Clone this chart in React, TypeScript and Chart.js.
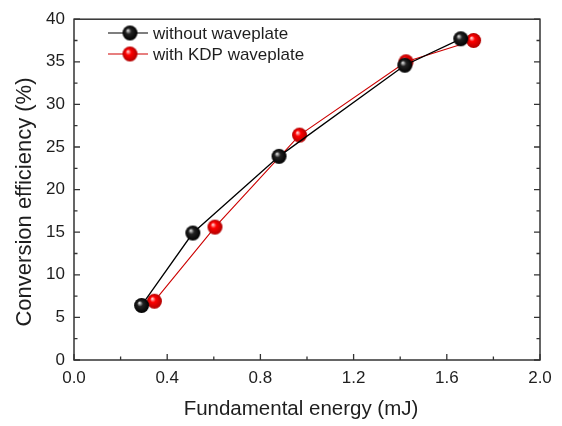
import React, { useEffect, useRef } from "react";
import { Chart, registerables } from "chart.js";

Chart.register(...registerables);

const seriesNames = ["without waveplate", "with KDP waveplate"];
const energyWithout = [0.29, 0.51, 0.88, 1.42, 1.66];
const effWithout = [6.4, 14.9, 23.9, 34.6, 37.7];
const energyKDP = [0.345, 0.605, 0.968, 1.425, 1.715];
const effKDP = [6.9, 15.6, 26.4, 35.0, 37.5];
const xTitle = "Fundamental energy (mJ)";
const yTitle = "Conversion efficiency (%)";

const FONT = "'Liberation Sans', Arial, sans-serif";
const AXIS = "#333333";
const TEXT = "#1e1e1e";

function makeBall(base: string, mid: string, light: string, r: number) {
  const s = Math.ceil(r * 2 + 2);
  const c = document.createElement("canvas");
  c.width = s;
  c.height = s;
  const ctx = c.getContext("2d")!;
  const cx = s / 2, cy = s / 2;
  const g = ctx.createRadialGradient(cx - r * 0.3, cy - r * 0.35, r * 0.05, cx, cy, r);
  g.addColorStop(0, light);
  g.addColorStop(0.35, mid);
  g.addColorStop(1, base);
  ctx.fillStyle = g;
  ctx.beginPath();
  ctx.arc(cx, cy, r, 0, Math.PI * 2);
  ctx.fill();
  return c;
}

export default function App() {
  const ref = useRef<HTMLCanvasElement | null>(null);
  useEffect(() => {
    document.body.style.margin = "0";
    const blackBall = makeBall("#000000", "#222222", "#e0e0e0", 7.5);
    const redBall = makeBall("#b00000", "#ff0000", "#ffd8d8", 7.5);

    const frame = {
      id: "frame",
      afterDraw(chart: any) {
        const { ctx, chartArea: a, scales } = chart;
        ctx.save();
        ctx.strokeStyle = AXIS;
        ctx.lineWidth = 1.5;
        ctx.strokeRect(a.left, a.top, a.right - a.left, a.bottom - a.top);
        ctx.lineWidth = 1.3;
        ctx.beginPath();
        for (let v = 0; v <= 2.0001; v += 0.2) {
          const x = scales.x.getPixelForValue(v);
          const major = Math.round(v * 10) % 4 === 0;
          const L = major ? 6 : 3.5;
          ctx.moveTo(x, a.bottom);
          ctx.lineTo(x, a.bottom - L);
        }
        for (let v = 0; v <= 40.001; v += 2.5) {
          const y = scales.y.getPixelForValue(v);
          const major = Math.round(v * 10) % 50 === 0;
          const L = major ? 6 : 3.5;
          ctx.moveTo(a.left, y);
          ctx.lineTo(a.left + L, y);
          ctx.moveTo(a.right, y);
          ctx.lineTo(a.right - L, y);
        }
        ctx.stroke();

        // axis titles
        ctx.fillStyle = TEXT;
        ctx.textAlign = "center";
        ctx.textBaseline = "middle";
        ctx.font = `20.5px ${FONT}`;
        ctx.fillText(xTitle, 301, 409);
        ctx.save();
        ctx.translate(25, 202);
        ctx.rotate(-Math.PI / 2);
        ctx.font = `22px ${FONT}`;
        ctx.fillText(yTitle, 0, 0);
        ctx.restore();

        // legend
        const rows = [
          { name: seriesNames[0], color: "#000000", img: blackBall, y: 33 },
          { name: seriesNames[1], color: "#d00000", img: redBall, y: 54 },
        ];
        ctx.font = `17px ${FONT}`;
        ctx.textBaseline = "middle";
        ctx.textAlign = "left";
        for (const r of rows) {
          ctx.strokeStyle = r.color;
          ctx.lineWidth = 1.2;
          ctx.beginPath();
          ctx.moveTo(108, r.y);
          ctx.lineTo(148, r.y);
          ctx.stroke();
          ctx.drawImage(r.img, 130 - r.img.width / 2, r.y - r.img.height / 2);
          ctx.fillStyle = TEXT;
          ctx.fillText(r.name, 153, r.y + 1);
        }
        ctx.restore();
      },
    };

    const chart = new Chart(ref.current!, {
      type: "scatter",
      data: {
        datasets: [
          {
            label: seriesNames[0],
            data: energyWithout.map((x, i) => ({ x, y: effWithout[i] })),
            showLine: true,
            borderColor: "#000000",
            borderWidth: 1.3,
            pointStyle: blackBall as any,
            pointRadius: 7.5,
          },
          {
            label: seriesNames[1],
            data: energyKDP.map((x, i) => ({ x, y: effKDP[i] })),
            showLine: true,
            borderColor: "#cc0000",
            borderWidth: 1.1,
            pointStyle: redBall as any,
            pointRadius: 7.5,
          },
        ],
      },
      options: {
        animation: false,
        responsive: false,
        layout: { padding: { top: 15, right: 22, left: 0, bottom: 0 } },
        plugins: { legend: { display: false }, tooltip: { enabled: false } },
        scales: {
          x: {
            type: "linear",
            min: 0,
            max: 2,
            grid: { display: false, drawTicks: false },
            border: { display: false },
            afterFit: (s: any) => { s.height = 66; },
            ticks: {
              stepSize: 0.4,
              padding: 8,
              color: TEXT,
              font: { family: FONT, size: 17 },
              callback: (v: any) => Number(v).toFixed(1),
            },
          },
          y: {
            min: 0,
            max: 40,
            grid: { display: false, drawTicks: false },
            border: { display: false },
            afterFit: (s: any) => { s.width = 74; },
            ticks: {
              stepSize: 5,
              padding: 9,
              color: TEXT,
              font: { family: FONT, size: 17 },
            },
          },
        },
      },
      plugins: [frame],
    });
    return () => chart.destroy();
  }, []);
  return (
    <div style={{ width: 562, height: 426, background: "#fff" }}>
      <canvas ref={ref} width={562} height={426} style={{ display: "block" }} />
    </div>
  );
}
